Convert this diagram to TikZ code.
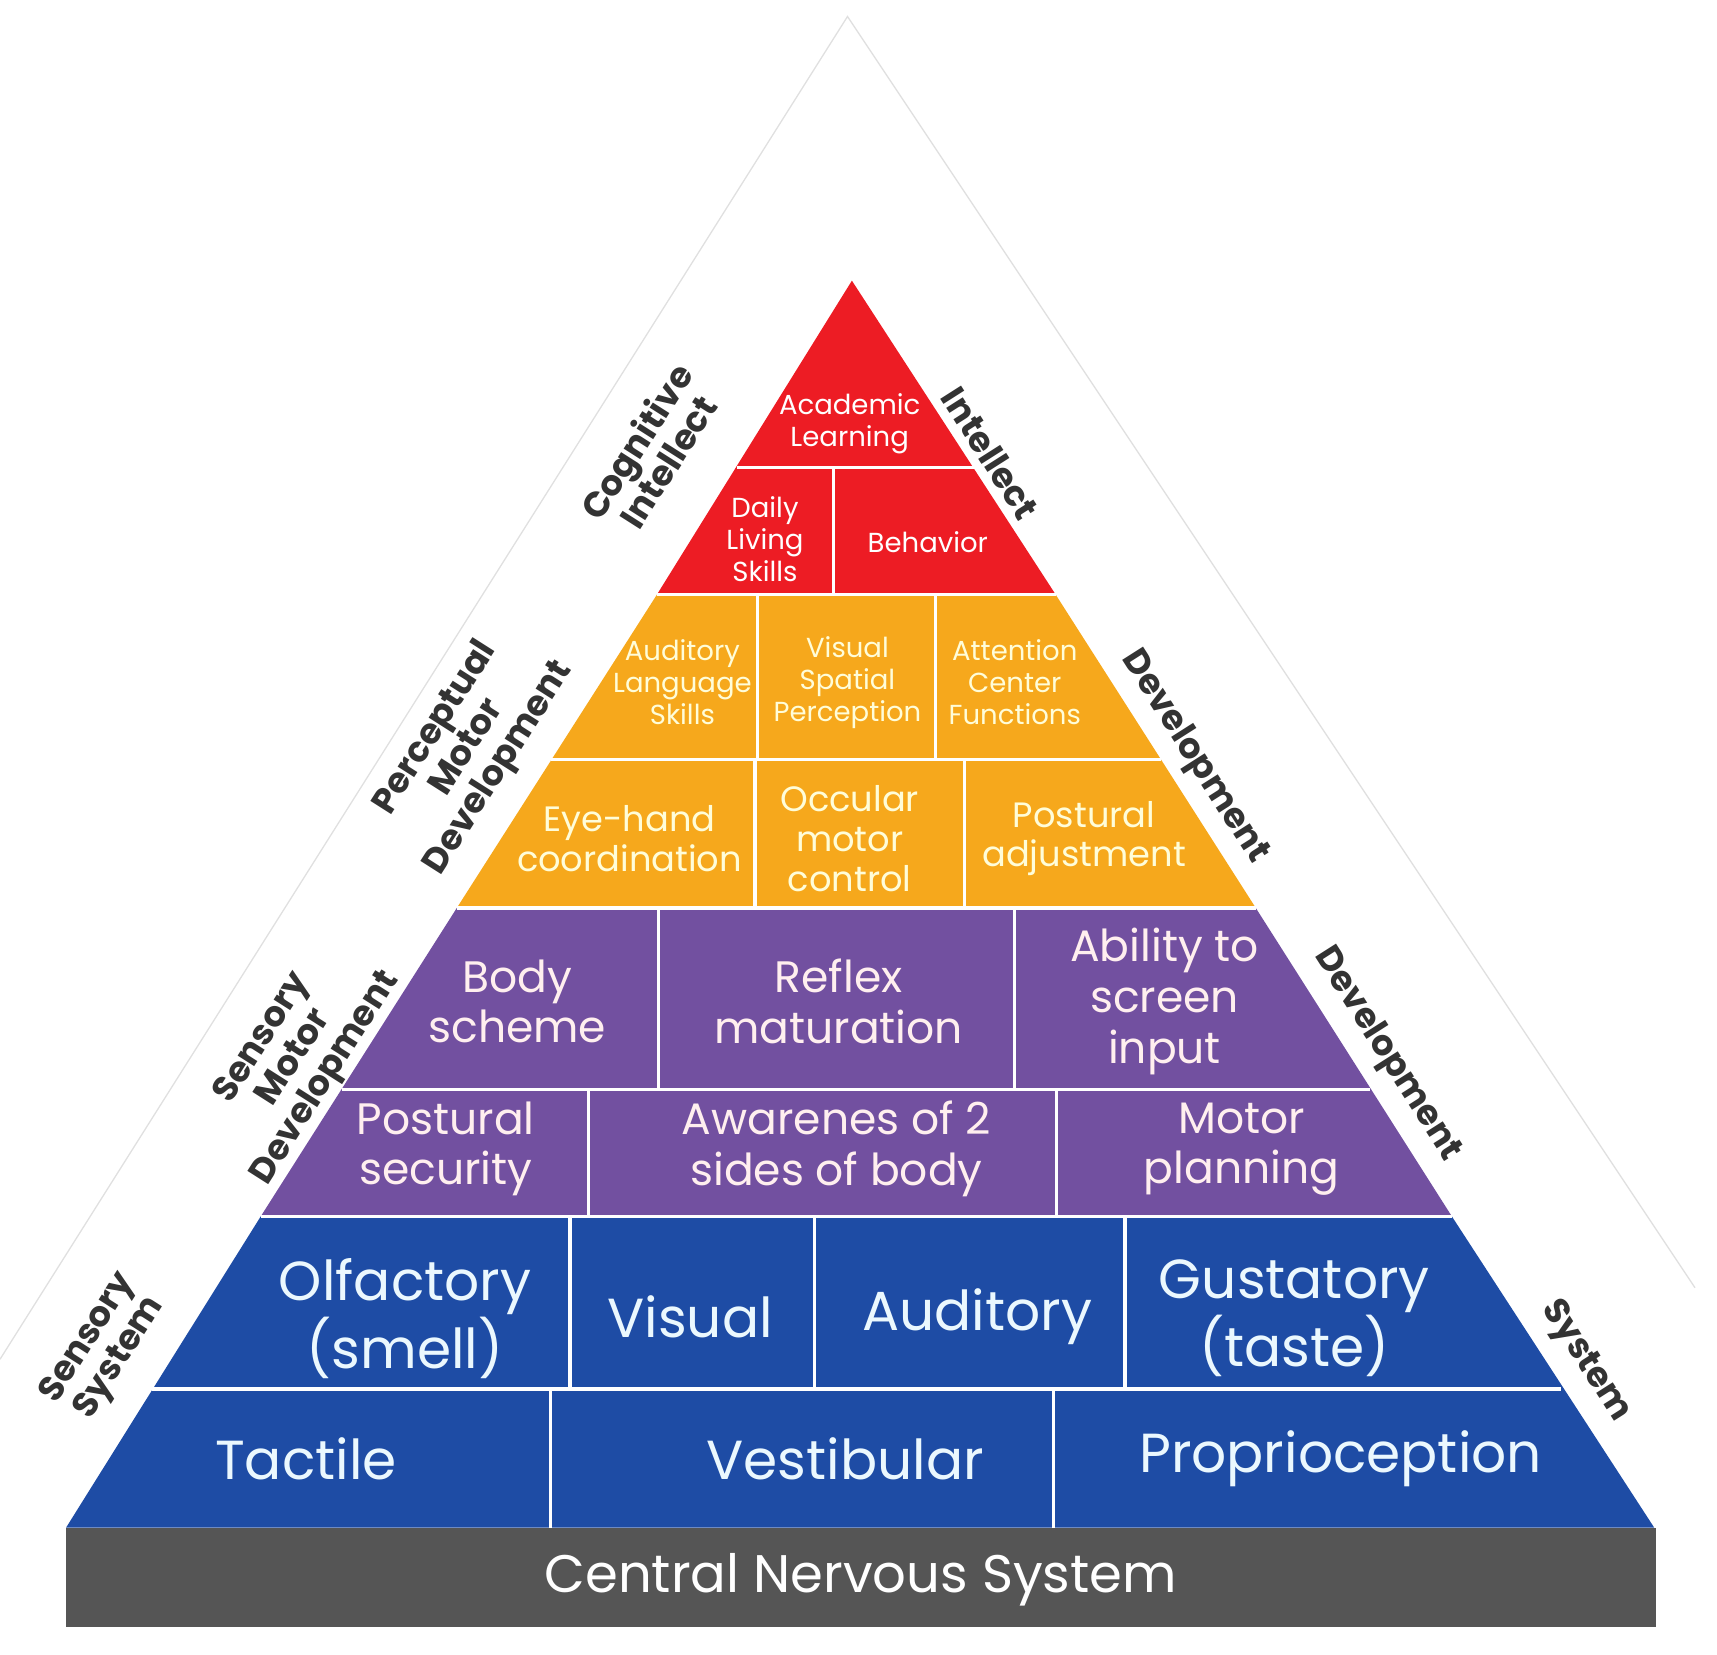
\documentclass[tikz,border=0pt]{standalone}
\usepackage{fontspec}
\setmainfont{Poppins}
\definecolor{cogred}{RGB}{237,28,36}
\definecolor{percorange}{RGB}{246,168,28}
\definecolor{senspurple}{RGB}{114,80,160}
\definecolor{sysblue}{RGB}{30,76,165}
\definecolor{cnsgray}{RGB}{85,85,85}
\tikzset{every picture/.style={line width=0.75pt}}
\tikzset{
  cell/.style={align=center, inner sep=0pt},
  side/.style={align=center, inner sep=0pt, text=black!80, font=\fontsize{16}{17}\selectfont\bfseries},
  divider/.style={draw=white, line width=1.5pt},
}

\begin{document}
\begin{tikzpicture}[x=0.5pt,y=0.5pt,yscale=-1,xscale=1]
\useasboundingbox (0,0) rectangle (1560,1503);

%Faint outer triangle
\draw [black!12, line width=0.6pt] (0,1235) -- (770,15) -- (1540,1170) ;

%Bands
\fill [cogred] (774,255) -- (959,540) -- (597,540) -- cycle ;
\fill [percorange] (597,540) -- (959,540) -- (1141,825) -- (415,825) -- cycle ;
\fill [senspurple] (415,825) -- (1141,825) -- (1319,1105) -- (237,1105) -- cycle ;
\fill [sysblue] (237,1105) -- (1319,1105) -- (1503,1388) -- (60,1388) -- cycle ;
\fill [cnsgray] (60,1388) rectangle (1505,1478) ;

%Row lines
\draw [divider] (670,425) -- (886,425) ;
\draw [divider] (597,540) -- (959,540) ;
\draw [divider] (501,690) -- (1055,690) ;
\draw [divider] (415,825) -- (1141,825) ;
\draw [divider] (311,990) -- (1245,990) ;
\draw [divider] (237,1105) -- (1319,1105) ;
\draw [divider] (138,1262) -- (1418,1262) ;
%Column lines
\draw [divider] (757,425) -- (757,540) ;
\draw [divider] (688,540) -- (688,690) ;
\draw [divider] (850,540) -- (850,690) ;
\draw [divider] (686,690) -- (686,825) ;
\draw [divider] (876,690) -- (876,825) ;
\draw [divider] (598,825) -- (598,990) ;
\draw [divider] (922,825) -- (922,990) ;
\draw [divider] (535,990) -- (535,1105) ;
\draw [divider] (960,990) -- (960,1105) ;
\draw [divider] (518,1105) -- (518,1262) ;
\draw [divider] (740,1105) -- (740,1262) ;
\draw [divider] (1022,1105) -- (1022,1262) ;
\draw [divider] (500,1262) -- (500,1388) ;
\draw [divider] (957,1262) -- (957,1388) ;

% Text Node
\begin{scope}[every node/.style={cell, text=white, font=\fontsize{12.5}{14.5}\selectfont}]
\node (acad) at (772,385) {Academic\\Learning};
\node (daily) at (695,490) {Daily\\Living\\Skills};
\node (behav) at (843,493) {Behavior};
\end{scope}
% Text Node
\begin{scope}[every node/.style={cell, text=yellow!15, font=\fontsize{12.5}{14.5}\selectfont}]
\node (audl) at (620,620) {Auditory\\Language\\Skills};
\node (visp) at (770,620) {Visual\\Spatial\\Perception};
\node (attn) at (922,620) {Attention\\Center\\Functions};
\end{scope}
\begin{scope}[every node/.style={cell, text=yellow!15, font=\fontsize{16}{18}\selectfont}]
\node (eyeh) at (572,762) {Eye-hand\\coordination};
\node (occm) at (772,762) {Occular\\motor\\control};
\node (post) at (985,762) {Postural\\adjustment};
\end{scope}
% Text Node
\begin{scope}[every node/.style={cell, text=pink!25, font=\fontsize{20}{23}\selectfont}]
\node (body) at (470,910) {Body\\scheme};
\node (refl) at (762,910) {Reflex\\maturation};
\node (abil) at (1058,910) {Ability to\\screen\\input};
\node (psec) at (405,1044) {Postural\\security};
\node (awar) at (760,1044) {Awarenes of 2\\sides of body};
\node (motp) at (1128,1044) {Motor\\planning};
\end{scope}
% Text Node
\begin{scope}[every node/.style={cell, text=cyan!8, font=\fontsize{25}{27}\selectfont}]
\node (olf) at (368,1198) {Olfactory\\(smell)};
\node (vis) at (627,1196) {Visual};
\node (aud) at (888,1196) {Auditory};
\node (gus) at (1176,1198) {Gustatory\\(taste)};
\node (tac) at (278,1325) {Tactile};
\node (ves) at (768,1325) {Vestibular};
\node (pro) at (1218,1325) {Proprioception};
\end{scope}
\node [cell, text=white, font=\fontsize{24}{27}\selectfont] (cns) at (782,1435) {Central Nervous System};

% Side labels
\node [side, rotate=57.5] (lcog) at (592,410) {Cognitive\\Intellect};
\node [side, rotate=57.5] (lper) at (425,680) {Perceptual\\Motor\\Development};
\node [side, rotate=57.5] (lsen) at (268,962) {Sensory\\Motor\\Development};
\node [side, rotate=57.5] (lsys) at (95,1225) {Sensory\\System};
\node [side, rotate=-57.5] (rint) at (900,412) {Intellect};
\node [side, rotate=-57.5] (rper) at (1085,688) {Development};
\node [side, rotate=-57.5] (rsen) at (1260,958) {Development};
\node [side, rotate=-57.5] (rsys) at (1440,1237) {System};
\end{tikzpicture}
\end{document}
